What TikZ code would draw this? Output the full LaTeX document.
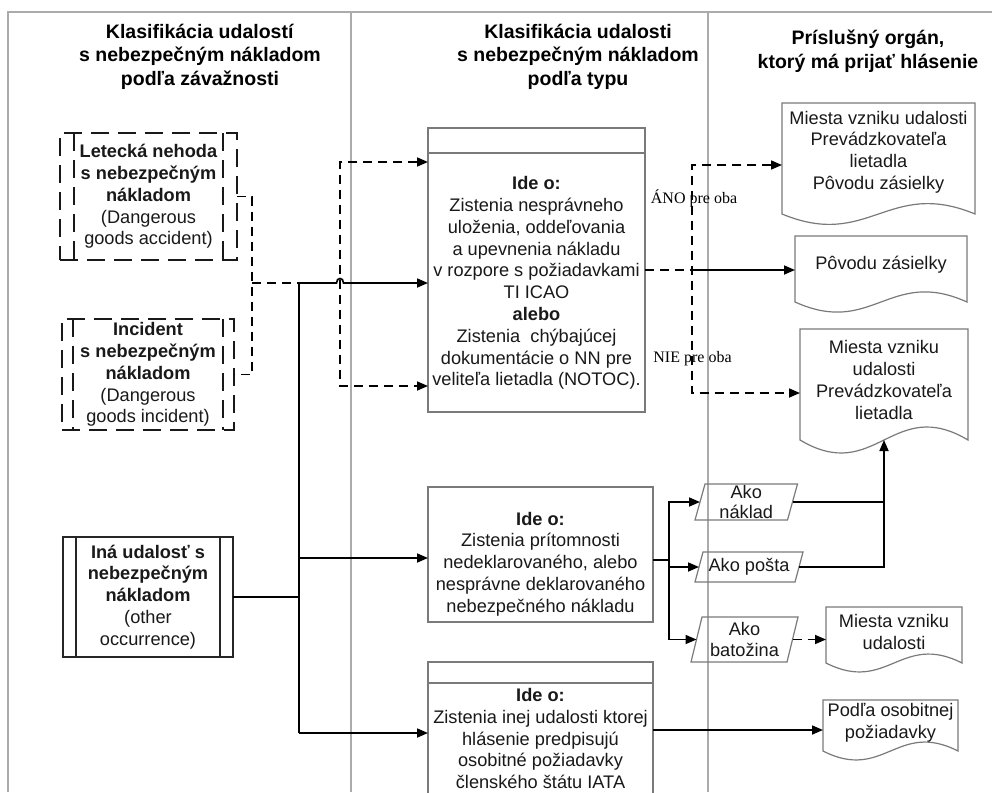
\documentclass[tikz,border=0pt]{standalone}
\usepackage{fontspec}
\setmainfont{Liberation Sans}
\newfontfamily\labelserif{Liberation Serif}
\usetikzlibrary{arrows.meta,calc}

\tikzset{
  divider/.style={draw=black!33, line width=1.5pt},
  boxline/.style={draw=black!52, line width=1.2pt},
  tip/.tip={Triangle[length=11pt,width=9pt]},
  wire/.style={draw=black, line width=1.7pt},
  arrow/.style={wire, -tip},
  dashwire/.style={wire, dash pattern=on 9pt off 6pt},
  dasharrow/.style={dashwire, -tip},
  dasharrows/.style={dashwire, tip-tip},
  body/.style={font=\fontsize{18.2}{21.8}\selectfont, align=center, inner sep=0pt, text=black!90},
  head/.style={font=\fontsize{19.5}{23.5}\selectfont, align=center, inner sep=0pt},
  shapebox/.style={rectangle, inner sep=0pt, outer sep=0pt},
  dashbox/.style={draw=black!90, line width=2pt, dash pattern=on 18pt off 9pt},
  solidbox/.style={draw=black!85, line width=2pt},
  answer/.style={font=\labelserif\fontsize{16}{18}\selectfont, inner sep=0pt},
}

% document symbol: straight top and sides, wavy bottom edge
\newcommand\docoutline[2]{%
  \draw[boxline] (#1.south east)
    .. controls ($(#1.south east)!0.45!(#1.south west)+(0,-#2)$)
            and ($(#1.south east)!0.55!(#1.south west)+(0,#2)$) .. (#1.south west)
    -- (#1.north west) -- (#1.north east) -- cycle;}
% slanted data box
\newcommand\slantbox[2]{%
  \draw[boxline] ($(#1.south west)+(-#2,0)$) -- ($(#1.south east)+(-#2,0)$)
    -- ($(#1.north east)+(#2,0)$) -- ($(#1.north west)+(#2,0)$) -- cycle;}

\begin{document}
\begin{tikzpicture}[x=1pt,y=-1pt]
\useasboundingbox (0,0) rectangle (992,792);
\fill[white] (0,0) rectangle (992,792);

% swimlane frame
\draw[divider] (992,12) -- (8,12) -- (8,792);
\draw[divider] (351,12) -- (351,792);
\draw[divider] (708,12) -- (708,792);

% lane headings
\node[head] (h1) at (200,56.5) {\textbf{Klasifikácia udalostí}\\\textbf{s nebezpečným nákladom}\\\textbf{podľa závažnosti}};
\node[head] (h2) at (578,56.5) {\textbf{Klasifikácia udalosti}\\\textbf{s nebezpečným nákladom}\\\textbf{podľa typu}};
\node[head] (h3) at (868,51) {\textbf{Príslušný orgán,}\\\textbf{ktorý má prijať hlásenie}};

% severity classes
\node[shapebox, body, dashbox, minimum width=177pt, minimum height=127pt] (boxA) at (148.5,196.5)
  {\textbf{Letecká nehoda}\\\textbf{s nebezpečným}\\\textbf{nákladom}\\(Dangerous\\goods accident)};
\draw[dashbox] ($(boxA.north west)+(14,0)$) -- ($(boxA.south west)+(14,0)$);
\draw[dashbox] ($(boxA.north east)+(-14,0)$) -- ($(boxA.south east)+(-14,0)$);

\node[shapebox, body, dashbox, minimum width=172pt, minimum height=111pt] (boxB) at (148,374.5)
  {\textbf{Incident}\\\textbf{s nebezpečným}\\\textbf{nákladom}\\(Dangerous\\goods incident)};
\draw[dashbox] ($(boxB.north west)+(11,0)$) -- ($(boxB.south west)+(11,0)$);
\draw[dashbox] ($(boxB.north east)+(-11,0)$) -- ($(boxB.south east)+(-11,0)$);

\node[shapebox, body, solidbox, minimum width=170pt, minimum height=120pt] (boxC) at (148,597)
  {\textbf{Iná udalosť s}\\\textbf{nebezpečným}\\\textbf{nákladom}\\(other\\occurrence)};
\draw[solidbox] ($(boxC.north west)+(13,0)$) -- ($(boxC.south west)+(13,0)$);
\draw[solidbox] ($(boxC.north east)+(-13,0)$) -- ($(boxC.south east)+(-13,0)$);

% type classes
\node[shapebox, boxline, minimum width=217pt, minimum height=284pt] (box1) at (536.5,270) {};
\draw[boxline] ($(box1.north west)+(0,25)$) -- ($(box1.north east)+(0,25)$);
\node[body] (box1t) at (536.5,283) {\textbf{Ide o:}\\Zistenia nesprávneho\\uloženia, oddeľovania\\a upevnenia nákladu\\v rozpore s požiadavkami\\TI ICAO\\\textbf{alebo}\\Zistenia\ \ chýbajúcej\\dokumentácie o NN pre\\veliteľa lietadla (NOTOC).};

\node[shapebox, boxline, minimum width=225pt, minimum height=135pt] (box2) at (540.5,554.5) {};
\node[body] (box2t) at (540.5,564) {\textbf{Ide o:}\\Zistenia prítomnosti\\nedeklarovaného, alebo\\nesprávne deklarovaného\\nebezpečného nákladu};

\node[shapebox, boxline, minimum width=225pt, minimum height=138pt] (box3) at (540.5,731) {};
\draw[boxline] ($(box3.north west)+(0,21)$) -- ($(box3.north east)+(0,21)$);
\node[body] (box3t) at (540.5,738.5) {\textbf{Ide o:}\\Zistenia inej udalosti ktorej\\hlásenie predpisujú\\osobitné požiadavky\\členského štátu IATA};

% consignment kinds
\node[shapebox, body, font=\fontsize{18.2}{20.5}\selectfont, minimum width=92.5pt, minimum height=36pt] (pA) at (746.25,502) {Ako\\náklad};
\slantbox{pA}{5}
\node[shapebox, body, minimum width=100pt, minimum height=30pt] (pB) at (749,567) {Ako pošta};
\slantbox{pB}{4}
\node[shapebox, body, font=\fontsize{18.2}{20.5}\selectfont, minimum width=96pt, minimum height=45pt] (pC) at (744.5,639.5) {Ako\\batožina};
\slantbox{pC}{5.5}

% receiving authorities
\node[shapebox, minimum width=193pt, minimum height=111pt] (doc1) at (878.5,158.5) {};
\docoutline{doc1}{36}
\node[body] (doc1t) at (878.5,152) {Miesta vzniku udalosti\\Prevádzkovateľa\\lietadla\\Pôvodu zásielky};
\node[shapebox, minimum width=172pt, minimum height=66pt] (doc2) at (881,269) {};
\docoutline{doc2}{35}
\node[body] (doc2t) at (881,265) {Pôvodu zásielky};
\node[shapebox, minimum width=168pt, minimum height=111pt] (doc3) at (884,384.5) {};
\docoutline{doc3}{45}
\node[body] (doc3t) at (884,380) {Miesta vzniku\\udalosti\\Prevádzkovateľa\\lietadla};
\node[shapebox, minimum width=136pt, minimum height=56pt] (doc4) at (894,635) {};
\docoutline{doc4}{31}
\node[body] (doc4t) at (894,632) {Miesta vzniku\\udalosti};
\node[shapebox, minimum width=135pt, minimum height=51pt] (doc5) at (890.5,725.5) {};
\docoutline{doc5}{31}
\node[body] (doc5t) at (890.5,723) {Podľa osobitnej\\požiadavky};

% junction points
\coordinate (brk) at (252,283);
\coordinate (jA) at (299,283);
\coordinate (jB) at (299,558);
\coordinate (jC) at (299,733);
\coordinate (hopL) at (336.5,283);
\coordinate (hopR) at (343.5,283);
\coordinate (dvT) at (340,162);
\coordinate (dvB) at (340,386);
\coordinate (drT) at (692,165);
\coordinate (drM) at (692,270);
\coordinate (drB) at (692,393);
\coordinate (jD) at (669,560);
\coordinate (jH) at (660,730);

% left lane to middle lane
\draw[dashwire] (boxA.east) -| (brk) |- (boxB.east);
\draw[dashwire] (brk) -- (jA);
\draw[arrow] (jA) -- (hopL) .. controls ($(hopL)+(0,-6)$) and ($(hopR)+(0,-6)$) .. (hopR) -- (box1.west |- jA);
\draw[wire] (jA) -- (jC);
\draw[wire] (boxC.east) -- (boxC.east -| jA);
\draw[arrow] (jB) -- (box2.west |- jB);
\draw[arrow] (jC) -- (box3.west |- jC);
\draw[dasharrows] (box1.west |- dvT) -- (dvT) -- (dvB) -- (box1.west |- dvB);

% middle lane to authorities
\draw[dashwire] (box1.east |- drM) -- (drM);
\draw[dasharrows] (doc1.west |- drT) -- (drT) -- (drB) -- (doc3.west |- drB);
\draw[arrow] (drM) -- (doc2.west |- drM);
\node[answer] (yes) at (694,198) {ÁNO pre oba};
\node[answer] (no) at (692.5,359) {NIE pre oba};

\draw[wire] (box2.east |- jD) -- (jD);
\draw[arrow] (jD) |- (pA.west);
\draw[arrow] (jD) |- (pB.west);
\draw[arrow] (jD) |- (pC.west);
\draw[wire] (pA.east) -- (pA.east -| doc3.south);
\draw[arrow] (pB.east) -| (doc3.south);
\draw[dasharrow] (pC.east) -- (doc4.west |- pC.east);
\draw[arrow] (box3.east |- jH) -- (doc5.west |- jH);
\end{tikzpicture}
\end{document}
